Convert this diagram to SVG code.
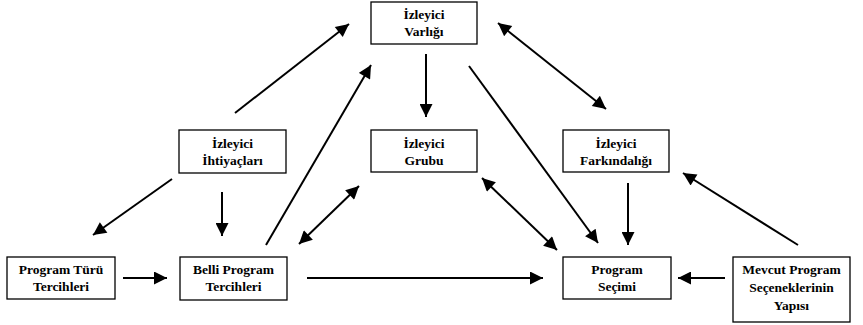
<svg xmlns="http://www.w3.org/2000/svg" width="863" height="325" viewBox="0 0 863 325">
<defs>
<marker id="ah" viewBox="0 0 10 10" refX="10" refY="5" markerWidth="8" markerHeight="6.5" markerUnits="strokeWidth" orient="auto-start-reverse">
<path d="M0,0 L10,5 L0,10 z" fill="#000"/>
</marker>
<style>
.box{fill:#fff;stroke:#000;stroke-width:1.3}
.t{font-family:'Liberation Serif','DejaVu Serif','Times New Roman',serif;font-size:13.5px;font-weight:bold;text-anchor:middle;fill:#000}
.c{stroke:#000;stroke-width:2;fill:none}
</style>
</defs>
<rect width="863" height="325" fill="#fff"/>
<g id="connectors">
<line class="c" x1="235" y1="113" x2="349" y2="24" marker-end="url(#ah)"/>
<line class="c" x1="266" y1="245" x2="371" y2="65" marker-end="url(#ah)"/>
<line class="c" x1="426" y1="54" x2="426" y2="117" marker-end="url(#ah)"/>
<line class="c" x1="498" y1="23" x2="606" y2="109" marker-start="url(#ah)" marker-end="url(#ah)"/>
<line class="c" x1="469" y1="66" x2="598" y2="243" marker-end="url(#ah)"/>
<line class="c" x1="172" y1="179" x2="93" y2="235" marker-end="url(#ah)"/>
<line class="c" x1="222" y1="192" x2="222" y2="236" marker-end="url(#ah)"/>
<line class="c" x1="299" y1="244" x2="359" y2="186" marker-start="url(#ah)" marker-end="url(#ah)"/>
<line class="c" x1="482" y1="178" x2="557" y2="250" marker-start="url(#ah)" marker-end="url(#ah)"/>
<line class="c" x1="628" y1="183" x2="628" y2="245" marker-end="url(#ah)"/>
<line class="c" x1="798" y1="245" x2="683" y2="173" marker-end="url(#ah)"/>
<line class="c" x1="123" y1="278" x2="167" y2="278" marker-end="url(#ah)"/>
<line class="c" x1="307" y1="278" x2="543" y2="278" marker-end="url(#ah)"/>
<line class="c" x1="725" y1="278" x2="678" y2="278" marker-end="url(#ah)"/>
</g>
<g id="izleyici-varligi">
<rect class="box" x="371" y="2" width="106" height="42"/>
<text class="t" x="424" y="19">İzleyici</text>
<text class="t" x="424" y="36">Varlığı</text>
</g>
<g id="izleyici-ihtiyaclari">
<rect class="box" x="179" y="130" width="107" height="43"/>
<text class="t" x="232.5" y="148">İzleyici</text>
<text class="t" x="232.5" y="165">İhtiyaçları</text>
</g>
<g id="izleyici-grubu">
<rect class="box" x="371" y="130" width="106" height="42"/>
<text class="t" x="424" y="148">İzleyici</text>
<text class="t" x="424" y="165">Grubu</text>
</g>
<g id="izleyici-farkindaligi">
<rect class="box" x="563" y="130" width="106" height="42"/>
<text class="t" x="616" y="148">İzleyici</text>
<text class="t" x="616" y="165">Farkındalığı</text>
</g>
<g id="program-turu-tercihleri">
<rect class="box" x="7" y="257" width="108" height="42"/>
<text class="t" x="61" y="274">Program Türü</text>
<text class="t" x="61" y="291">Tercihleri</text>
</g>
<g id="belli-program-tercihleri">
<rect class="box" x="180" y="257" width="107" height="43"/>
<text class="t" x="233.5" y="274">Belli Program</text>
<text class="t" x="233.5" y="291">Tercihleri</text>
</g>
<g id="program-secimi">
<rect class="box" x="563" y="257" width="108" height="42"/>
<text class="t" x="617" y="274">Program</text>
<text class="t" x="617" y="291">Seçimi</text>
</g>
<g id="mevcut-program">
<rect class="box" x="733" y="257" width="117" height="65"/>
<text class="t" x="791.5" y="274">Mevcut Program</text>
<text class="t" x="791.5" y="292">Seçeneklerinin</text>
<text class="t" x="791.5" y="310">Yapısı</text>
</g>
</svg>
